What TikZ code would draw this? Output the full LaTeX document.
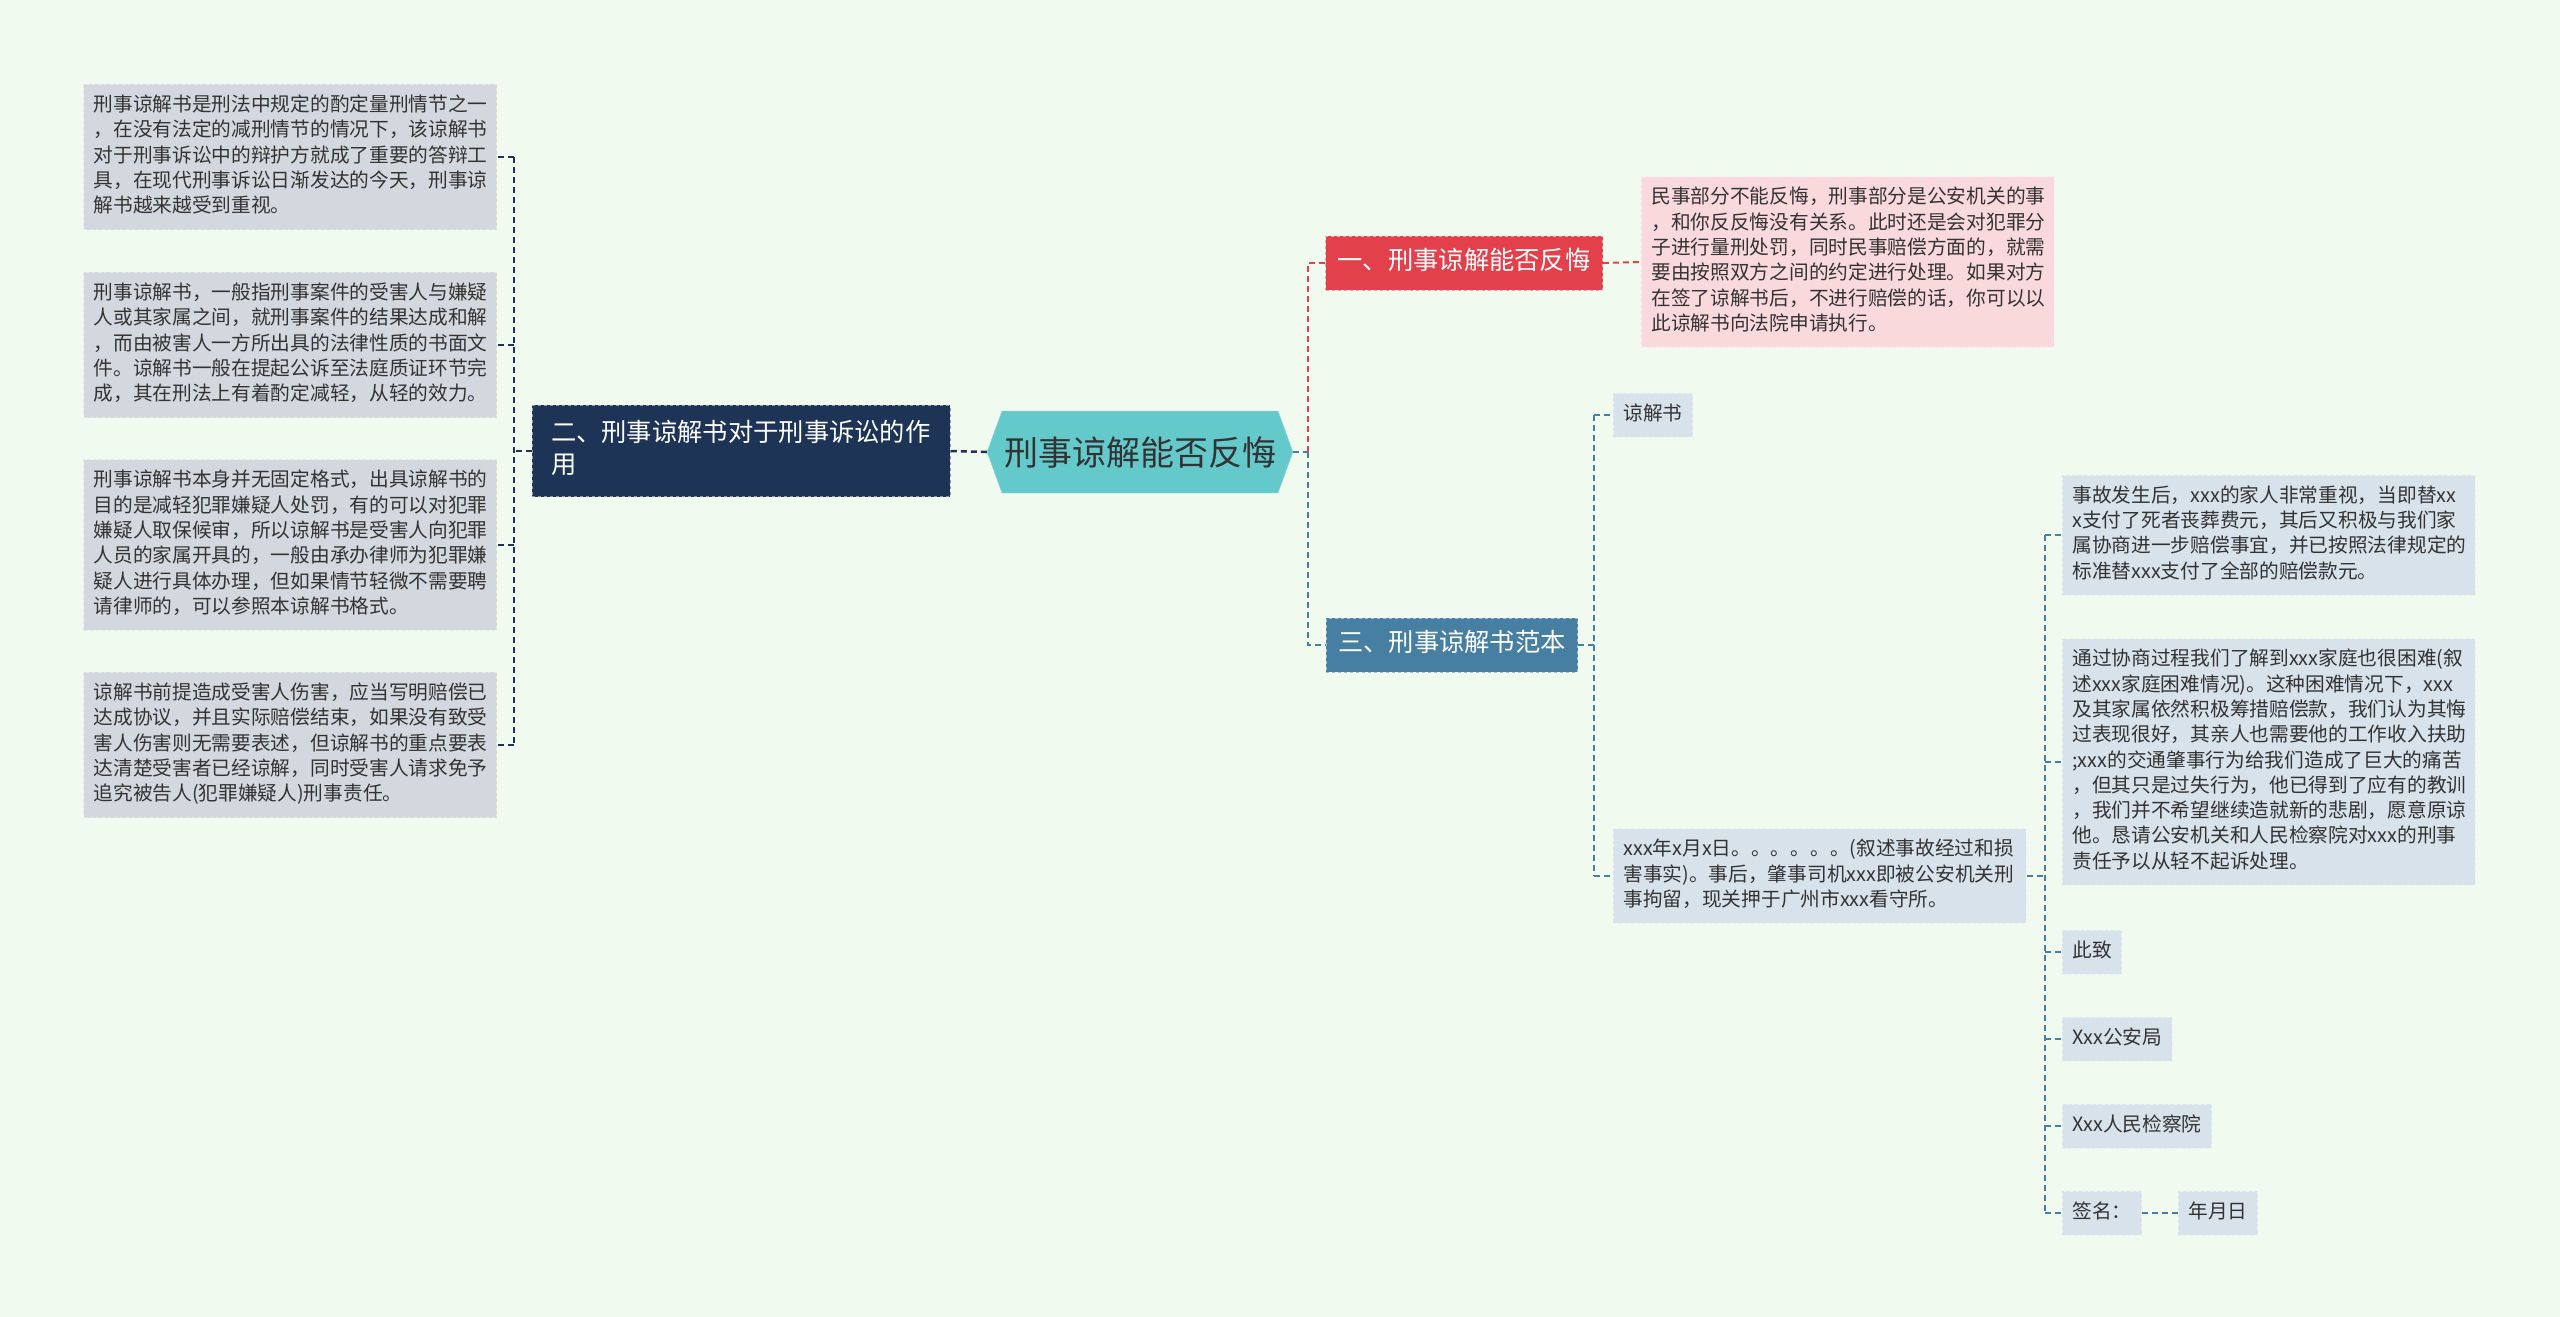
\documentclass[tikz,border=0pt]{standalone}
\usepackage{fontspec}
\setmainfont{Noto Sans CJK SC}
\usetikzlibrary{shapes.symbols}

\definecolor{cBg}{HTML}{F1FAEF}
\definecolor{cRoot}{HTML}{63C9CB}
\definecolor{cNavy}{HTML}{1E3456}
\definecolor{cGray}{HTML}{D3D8DE}
\definecolor{cRed}{HTML}{E2404B}
\definecolor{cPink}{HTML}{FAD9DD}
\definecolor{cSteel}{HTML}{467FA2}
\definecolor{cLeaf}{HTML}{D8E2EB}
\definecolor{cText}{HTML}{333333}

\begin{document}
\begin{tikzpicture}[x=1pt, y=-1pt,
    conn/.style={dash pattern=on 6pt off 4pt, line width=2pt},
    navyline/.style={conn, draw=cNavy},
    redline/.style={conn, draw=cRed},
    steelline/.style={conn, draw=cSteel},
    leafbase/.style={inner xsep=10pt, inner ysep=9.4pt, text=cText,
        font=\fontsize{19.7}{25.3}\selectfont, dashed, line width=0.8pt,
        execute at begin node={\noindent\strut}, execute at end node=\strut},
    leafbox/.style={leafbase, align=left, text width=393pt},
    grayleaf/.style={leafbox, fill=cGray, draw=cGray!60!white},
    pinkleaf/.style={leafbox, fill=cPink, draw=cPink!50!white},
    blueleaf/.style={leafbox, fill=cLeaf, draw=cLeaf!50!white},
    bluetag/.style={leafbase, fill=cLeaf, draw=cLeaf!50!white},
    topicbox/.style={inner xsep=12pt, inner ysep=10.7pt, text=white,
        font=\fontsize{25.3}{32.6}\selectfont, dashed, line width=0.8pt,
        execute at begin node={\noindent\strut}, execute at end node=\strut},
    rootbox/.style={signal, signal to=east and west, signal pointer angle=140,
        fill=cRoot, draw=cRoot!70!white, text=cText, minimum height=82pt,
        inner xsep=2pt, font=\fontsize{34}{40}\selectfont}
    ]
    \fill[cBg] (0,0) rectangle (2560,1317);
    \useasboundingbox (0,0) rectangle (2560,1317);

    \node[rootbox] (root) at (1140,452) {刑事谅解能否反悔};

    \node[topicbox, fill=cNavy, draw=cNavy!50!white, align=left, text width=380pt,
        inner xsep=19pt, inner ysep=13pt] (er) at (741,451)
        {二、刑事谅解书对于刑事诉讼的作\\用};

    \node[grayleaf, anchor=east] (l1) at (497,157)
        {刑事谅解书是刑法中规定的酌定量刑情节之一\\，在没有法定的减刑情节的情况下，该谅解书\\对于刑事诉讼中的辩护方就成了重要的答辩工\\具，在现代刑事诉讼日渐发达的今天，刑事谅\\解书越来越受到重视。};
    \node[grayleaf, anchor=east] (l2) at (497,345)
        {刑事谅解书，一般指刑事案件的受害人与嫌疑\\人或其家属之间，就刑事案件的结果达成和解\\，而由被害人一方所出具的法律性质的书面文\\件。谅解书一般在提起公诉至法庭质证环节完\\成，其在刑法上有着酌定减轻，从轻的效力。};
    \node[grayleaf, anchor=east] (l3) at (497,545)
        {刑事谅解书本身并无固定格式，出具谅解书的\\目的是减轻犯罪嫌疑人处罚，有的可以对犯罪\\嫌疑人取保候审，所以谅解书是受害人向犯罪\\人员的家属开具的，一般由承办律师为犯罪嫌\\疑人进行具体办理，但如果情节轻微不需要聘\\请律师的，可以参照本谅解书格式。};
    \node[grayleaf, anchor=east] (l4) at (497,745)
        {谅解书前提造成受害人伤害，应当写明赔偿已\\达成协议，并且实际赔偿结束，如果没有致受\\害人伤害则无需要表述，但谅解书的重点要表\\达清楚受害者已经谅解，同时受害人请求免予\\追究被告人(犯罪嫌疑人)刑事责任。};

    \node[topicbox, fill=cRed, draw=cRed!50!white] (yi) at (1464,263) {一、刑事谅解能否反悔};
    \node[pinkleaf, anchor=west] (pink) at (1641,262)
        {民事部分不能反悔，刑事部分是公安机关的事\\，和你反反悔没有关系。此时还是会对犯罪分\\子进行量刑处罚，同时民事赔偿方面的，就需\\要由按照双方之间的约定进行处理。如果对方\\在签了谅解书后，不进行赔偿的话，你可以以\\此谅解书向法院申请执行。};

    \node[topicbox, fill=cSteel, draw=cSteel!50!white] (san) at (1452,645) {三、刑事谅解书范本};
    \node[bluetag, anchor=west] (ljs) at (1613,415) {谅解书};
    \node[blueleaf, anchor=west] (dt) at (1613,876)
        {xxx年x月x日。。。。。。(叙述事故经过和损\\害事实)。事后，肇事司机xxx即被公安机关刑\\事拘留，现关押于广州市xxx看守所。};

    \node[blueleaf, anchor=west] (r1) at (2062,535)
        {事故发生后，xxx的家人非常重视，当即替xx\\x支付了死者丧葬费元，其后又积极与我们家\\属协商进一步赔偿事宜，并已按照法律规定的\\标准替xxx支付了全部的赔偿款元。};
    \node[blueleaf, anchor=west] (r2) at (2062,762)
        {通过协商过程我们了解到xxx家庭也很困难(叙\\述xxx家庭困难情况)。这种困难情况下，xxx\\及其家属依然积极筹措赔偿款，我们认为其悔\\过表现很好，其亲人也需要他的工作收入扶助\\;xxx的交通肇事行为给我们造成了巨大的痛苦\\，但其只是过失行为，他已得到了应有的教训\\，我们并不希望继续造就新的悲剧，愿意原谅\\他。恳请公安机关和人民检察院对xxx的刑事\\责任予以从轻不起诉处理。};
    \node[bluetag, anchor=west] (r3) at (2062,952) {此致};
    \node[bluetag, anchor=west] (r4) at (2062,1039) {Xxx公安局};
    \node[bluetag, anchor=west] (r5) at (2062,1126) {Xxx人民检察院};
    \node[bluetag, anchor=west] (r6) at (2062,1213) {签名：};
    \node[bluetag, anchor=west] (r7) at (2178,1213) {年月日};

    \draw[navyline, line width=2.5pt] (root.west) -- (er.east);
    \draw[navyline] (er.west) -- ++(-18,0) coordinate (lt);
    \draw[navyline] (lt |- l1.east) -- (lt |- l4.east);
    \foreach \n in {l1,l2,l3,l4}
        \draw[navyline] (lt |- \n.east) -- (\n.east);

    \draw[steelline] (root.east) -- ++(15,0) coordinate (rt);
    \draw[redline] (rt) |- (yi.west);
    \draw[redline] (yi.east) -- (pink.west);
    \draw[steelline] (rt) |- (san.west);

    \draw[steelline] (san.east) -- ++(16,0) coordinate (st);
    \draw[steelline] (st |- ljs.west) -- (st |- dt.west);
    \foreach \n in {ljs,dt}
        \draw[steelline] (st |- \n.west) -- (\n.west);

    \draw[steelline] (dt.east) -- ++(18,0) coordinate (dtt);
    \draw[steelline] (dtt |- r1.west) -- (dtt |- r6.west);
    \foreach \n in {r1,r2,r3,r4,r5,r6}
        \draw[steelline] (dtt |- \n.west) -- (\n.west);
    \draw[steelline] (r6.east) -- (r7.west);
\end{tikzpicture}
\end{document}
